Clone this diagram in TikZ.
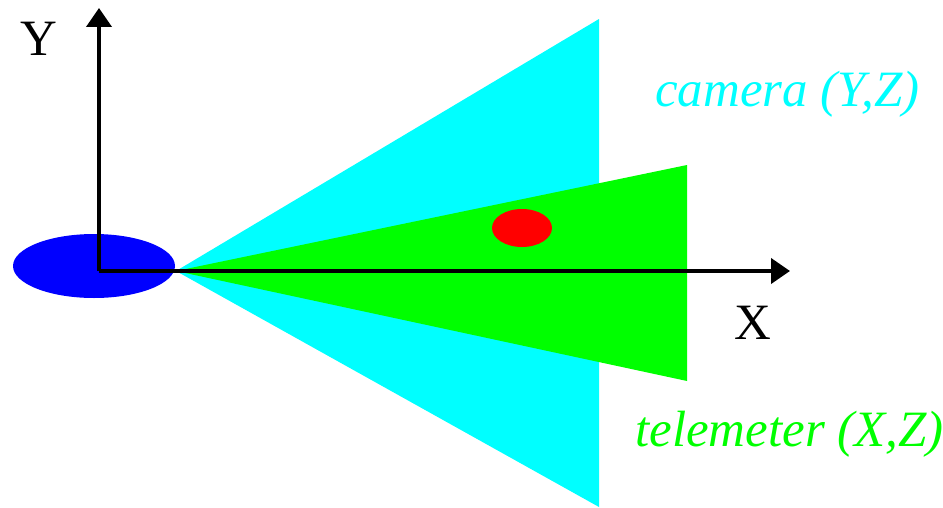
\documentclass[tikz,border=0pt]{standalone}
\usepackage{fontspec}
\setmainfont{Liberation Serif}
\usepackage{xcolor}
\usetikzlibrary{arrows.meta,positioning}
\definecolor{camcyan}{RGB}{0, 255, 255}
\definecolor{telgreen}{RGB}{0, 255, 0}
\definecolor{baseblue}{RGB}{0, 0, 255}
\definecolor{targetred}{RGB}{255, 0, 0}

\begin{document}
\begin{tikzpicture}[
    x=0.02cm, y=-0.02cm,
    axis/.style={-{Triangle[length=0.38cm, width=0.5cm]}, line width=0.08cm, black},
    axislabel/.style={inner sep=0pt, font=\fontsize{29}{31}\selectfont},
    fovlabel/.style={inner sep=0pt, anchor=base west, font=\fontsize{29}{31}\selectfont\itshape}
]
    \useasboundingbox (0,0) rectangle (943,507);

    % Field of view cones
    \coordinate (apex) at (176,271);
    \coordinate (camTop) at (599,19);
    \coordinate (camBot) at (599,507);
    \coordinate (telTop) at (687,165);
    \coordinate (telBot) at (687,381);
    \fill[camcyan] (apex) -- (camTop) -- (camBot) -- cycle;
    \fill[telgreen] (apex) -- (telTop) -- (telBot) -- cycle;

    % Target and base
    \fill[targetred] (522,228) ellipse [x radius=30, y radius=19];
    \fill[baseblue] (94,266) ellipse [x radius=81, y radius=32];

    % Axes
    \coordinate (origin) at (99,271);
    \coordinate (xtip) at (790,271);
    \coordinate (ytip) at (99,8);
    \draw[axis] (origin) -- (xtip);
    \draw[axis] (origin) -- (ytip);
    \node[axislabel, anchor=base] (xlab) at (753,339) {X};
    \node[axislabel, anchor=base] (ylab) at (39,55) {Y};

    % Sensor labels
    \node[fovlabel, text=camcyan] (camlab) at (655,106) {camera (Y,Z)};
    \node[fovlabel, text=telgreen] (tellab) at (635,446) {telemeter (X,Z)};

\end{tikzpicture}
\end{document}
